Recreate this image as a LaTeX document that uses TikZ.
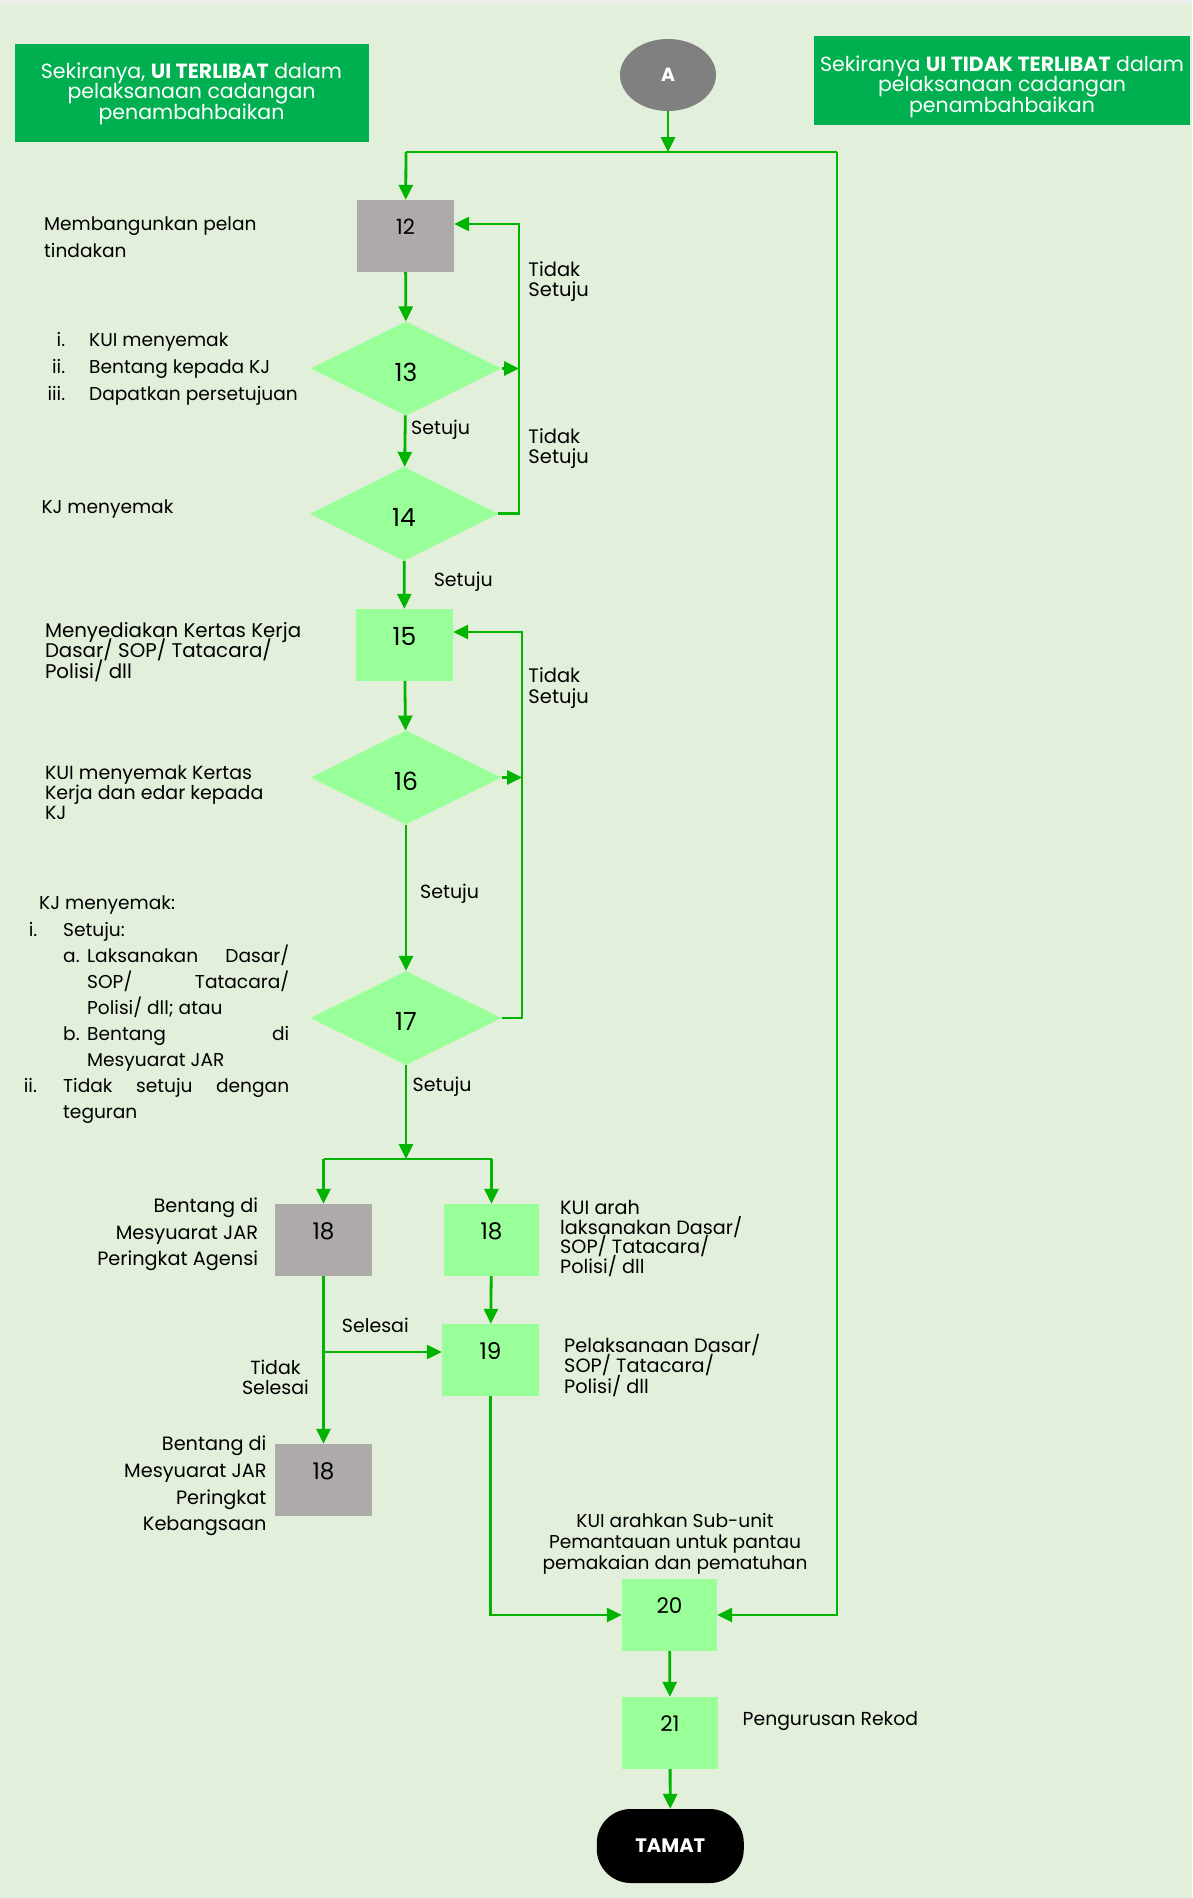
\documentclass[tikz,border=0pt]{standalone}
\usepackage{fontspec}
\setmainfont{Poppins}
\usetikzlibrary{arrows.meta,shapes.geometric,calc}
\definecolor{bgc}{RGB}{226,239,218}
\definecolor{topgray}{RGB}{238,238,238}
\definecolor{hgreen}{RGB}{0,176,80}
\definecolor{lgreen}{RGB}{153,255,153}
\definecolor{boxgray}{RGB}{174,170,170}
\definecolor{agray}{RGB}{128,128,128}
\definecolor{arrowc}{RGB}{0,180,0}
\newcommand\fz[2]{\fontsize{#1}{#2}\selectfont\lineskiplimit=-100pt\relax}
\begin{document}
\begin{tikzpicture}[x=1pt,y=-1pt,
 line/.style={draw=arrowc,line width=2.8pt},
 arr/.style={line,-{Triangle[length=15pt,width=14pt]}},
 box/.style={rectangle,inner sep=0pt,minimum width=97pt,minimum height=72pt,text height=15pt,text depth=18pt},
 greenbox/.style={box,fill=lgreen},
 graybox/.style={box,fill=boxgray},
 dia/.style={diamond,fill=lgreen,inner sep=0pt,minimum width=191pt,minimum height=94pt,font=\fz{25}{28},text height=25pt,text depth=0pt},
 hdrbox/.style={rectangle,fill=hgreen,inner sep=0pt},
 hdr/.style={inner sep=0pt,text=white,align=center,font=\fz{20.5}{20.5}},
 txt/.style={inner sep=0pt,align=left,font=\fz{18.6}{26.6}},
 tight/.style={inner sep=0pt,align=left,font=\fz{18.8}{20.2}},
 lbl/.style={inner sep=0pt,align=left,font=\fz{19}{20}},
]
\fill[bgc] (0,0) rectangle (1192,1898);
\fill[topgray] (0,0) rectangle (1192,3);
\useasboundingbox (0,0) rectangle (1192,1898);

% headers
\node[hdrbox,minimum width=354pt,minimum height=98pt] (h1) at (191.5,93) {};
\node[hdr] (h1t) at (191.5,93.5) {Sekiranya, \textbf{UI TERLIBAT} dalam\\pelaksanaan cadangan\\penambahbaikan};
\node[hdrbox,minimum width=376pt,minimum height=89pt] (h2) at (1002,80.5) {};
\node[hdr] (h2t) at (1002,86.5) {Sekiranya \textbf{UI TIDAK TERLIBAT} dalam\\pelaksanaan cadangan\\penambahbaikan};

% start
\node[ellipse,fill=agray,minimum width=96pt,minimum height=72pt,inner sep=0pt,text=white,font=\bfseries\fz{19}{20}] (A) at (668,75) {A};

\coordinate (tl) at (406,152);
\coordinate (tr) at (837,152);
\coordinate (tm) at (668,152);

% flow nodes
\node[graybox,font=\fz{21}{24},text height=15pt] (n12) at (405.5,236) {12};
\node[dia] (d13) at (406,368.5) {13};
\node[dia,minimum width=188pt] (d14) at (404,513.7) {14};
\node[greenbox,font=\fz{25}{28},text height=18pt] (n15) at (404.5,645) {15};
\node[dia] (d16) at (406,777.5) {16};
\node[dia] (d17) at (406,1018) {17};
\node[graybox,font=\fz{23}{26},text height=16pt] (g18a) at (323.5,1240) {18};
\node[greenbox,minimum width=95pt,font=\fz{23}{26},text height=16pt] (n18) at (491.5,1240) {18};
\node[greenbox,font=\fz{23}{26},text height=16pt] (n19) at (490.5,1360) {19};
\node[graybox,font=\fz{23}{26},text height=16pt] (g18b) at (323.5,1480) {18};
\node[greenbox,minimum width=95pt,font=\fz{21.5}{24},text height=15pt] (n20) at (669.5,1615) {20};
\node[greenbox,minimum width=96pt,font=\fz{21.5}{24},text height=15pt] (n21) at (670,1733) {21};
\node[rectangle,rounded corners=34pt,fill=black,minimum width=147pt,minimum height=74pt,inner sep=0pt,text=white,font=\bfseries\fz{19.5}{20}] (tamat) at (670.3,1846) {TAMAT};

% connectors
\draw[arr] (A) -- (tm);
\draw[line] (tl) -- (tr);
\draw[arr] (tl) -- (n12);
\draw[arr] (tr) |- (n20);
\draw[arr] (n12) -- (d13);
\draw[arr] (d13) -- (d14);
\coordinate (r13) at (519,368.5);
\draw[arr] (d13.east) -- (r13);
\coordinate (r12) at (519,224);
\draw[arr] (d14.east) -| (r12) -- (r12 -| n12.east);
\draw[arr] (d14) -- (n15);
\draw[arr] (n15) -- (d16);
\coordinate (r16) at (522,777.5);
\draw[arr] (d16.east) -- (r16);
\coordinate (r15) at (522,632);
\draw[arr] (d17.east) -| (r15) -- (r15 -| n15.east);
\draw[arr] (d16) -- (d17);
\coordinate (j) at (406,1159);
\coordinate (jl) at (323.5,1159);
\coordinate (jr) at (491.5,1159);
\draw[arr] (d17) -- (j);
\draw[line] (jl) -- (jr);
\draw[arr] (jl) -- (g18a);
\draw[arr] (jr) -- (n18);
\draw[arr] (n18) -- (n19);
\draw[arr] (g18a) -- (g18b);
\coordinate (br) at (323.5,1352);
\draw[arr] (br) -- (br -| n19.west);
\draw[arr] (n19.south) |- (n20);
\draw[arr] (n20) -- (n21);
\draw[arr] (n21) -- (tamat);

% connector labels
\node[lbl,anchor=north,font=\fz{19.5}{20.5}] (ts1) at (558.7,261) {Tidak\\Setuju};
\node[lbl,anchor=north,font=\fz{19.5}{20.5}] (ts2) at (558.7,428) {Tidak\\Setuju};
\node[lbl,anchor=north,font=\fz{19.5}{21.5}] (ts3) at (558.7,667) {Tidak\\Setuju};
\node[lbl,anchor=west] (s1) at (411,430) {Setuju};
\node[lbl,anchor=west] (s2) at (433.6,581.7) {Setuju};
\node[lbl,anchor=west] (s3) at (420,894) {Setuju};
\node[lbl,anchor=west] (s4) at (412.5,1086.7) {Setuju};
\node[lbl,anchor=west] (sl) at (341.7,1325) {Selesai};
\node[lbl,anchor=north,align=center] (tsl) at (275.5,1359.5) {Tidak\\Selesai};

% side texts
\node[txt,anchor=north west] (t12) at (44,216.5) {Membangunkan pelan\\tindakan};
\node[txt,anchor=north west,font=\fz{18.6}{27}] (t13) at (30,332) {\makebox[35pt][r]{i.}\hspace{24pt}KUI menyemak\\\makebox[35pt][r]{ii.}\hspace{24pt}Bentang kepada KJ\\\makebox[35pt][r]{iii.}\hspace{24pt}Dapatkan persetujuan};
\node[txt,anchor=north west] (t14) at (41.3,500) {KJ menyemak};
\node[tight,anchor=north west,font=\fz{19.8}{20.5}] (t15) at (44.8,622) {Menyediakan Kertas Kerja\\Dasar/ SOP/ Tatacara/\\Polisi/ dll};
\node[tight,anchor=north west,font=\fz{19}{20}] (t16) at (44.8,765) {KUI menyemak Kertas\\Kerja dan edar kepada\\KJ};
\node[txt,anchor=north west,font=\fz{18.6}{26.1}] (t17) at (23.7,896) {\hspace*{15.3pt}KJ menyemak:\\
\makebox[39.3pt][l]{\hspace*{5pt}i.}Setuju:\\
\hspace*{39.3pt}\makebox[24pt][l]{a.}\hbox to 202pt{Laksanakan\hfill Dasar/}\\
\hspace*{63.3pt}\hbox to 202pt{SOP/\hfill Tatacara/}\\
\hspace*{63.3pt}Polisi/ dll; atau\\
\hspace*{39.3pt}\makebox[24pt][l]{b.}\hbox to 202pt{Bentang\hfill di}\\
\hspace*{63.3pt}Mesyuarat JAR\\
\makebox[39.3pt][l]{ii.}\hbox to 226pt{Tidak\hfill setuju\hfill dengan}\\
\hspace*{39.3pt}teguran};
\node[txt,anchor=north east,align=right,font=\fz{19.3}{26.5}] (t18a) at (258.3,1198) {Bentang di\\Mesyuarat JAR\\Peringkat Agensi};
\node[txt,anchor=north east,align=right,font=\fz{19.3}{26.6}] (t18b) at (266.7,1436) {Bentang di\\Mesyuarat JAR\\Peringkat\\Kebangsaan};
\node[tight,anchor=north west,font=\fz{19.2}{19.7}] (t18c) at (560,1200) {KUI arah\\laksanakan Dasar/\\SOP/ Tatacara/\\Polisi/ dll};
\node[tight,anchor=north west,font=\fz{19.3}{20.5}] (t19) at (564,1334) {Pelaksanaan Dasar/\\SOP/ Tatacara/\\Polisi/ dll};
\node[tight,anchor=north,align=center,font=\fz{18.6}{21}] (t20) at (675,1513) {KUI arahkan Sub-unit\\Pemantauan untuk pantau\\pemakaian dan pematuhan};
\node[txt,anchor=west,font=\fz{18.8}{20}] (t21) at (742.5,1721) {Pengurusan Rekod};
\end{tikzpicture}
\end{document}
